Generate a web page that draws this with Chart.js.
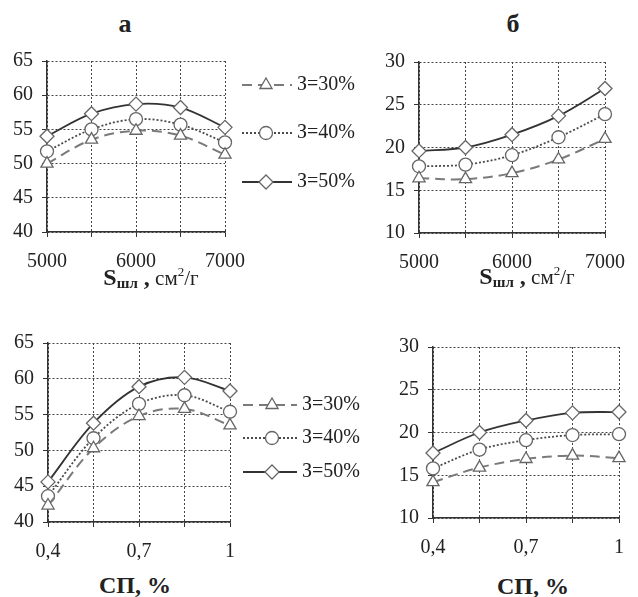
<!DOCTYPE html>
<html>
<head>
  <meta charset="UTF-8" />
  <title>Графики а, б</title>
  <script src="https://cdn.jsdelivr.net/npm/chart.js"></script>
  <style>
    body { margin: 0; background: #fff; }
    #wrap { position: relative; width: 638px; height: 597px; font-family: "Liberation Serif", serif; color: #222; }
    canvas { position: absolute; }
    .lbl { position: absolute; white-space: nowrap; transform: translate(-50%, -50%); line-height: 1; }
    .titulo { font-weight: bold; font-size: 26px; }
    .eixo { font-size: 21px; }
    .eixo b { font-size: 24px; }
    .eixo sub { font-size: 15px; vertical-align: -3px; }
    .eixo sup { font-size: 13px; vertical-align: 9px; }
  </style>
</head>
<body>
  <div id="wrap">
    <canvas id="gA" width="370" height="240" style="left:0; top:40px;"></canvas>
    <canvas id="gB" width="268" height="240" style="left:370px; top:40px;"></canvas>
    <canvas id="gC" width="370" height="240" style="left:0; top:320px;"></canvas>
    <canvas id="gD" width="268" height="240" style="left:370px; top:320px;"></canvas>
  </div>

  <script>
    // --- dados ---
    const xS = [5000, 5500, 6000, 6500, 7000];
    const xSLabels = ["5000", "", "6000", "", "7000"];
    const xSP = [0.4, 0.55, 0.7, 0.85, 1];
    const xSPLabels = ["0,4", "", "0,7", "", "1"];
    const nomes = ["З=30%", "З=40%", "З=50%"];

    const a30 = [50.0, 53.5, 54.8, 54.1, 51.3];
    const a40 = [51.8, 55.0, 56.5, 55.7, 53.1];
    const a50 = [54.0, 57.3, 58.7, 58.2, 55.3];

    const b30 = [16.4, 16.3, 17.0, 18.6, 21.0];
    const b40 = [17.8, 18.0, 19.1, 21.2, 23.9];
    const b50 = [19.6, 20.0, 21.5, 23.7, 26.9];

    const c30 = [42.3, 50.3, 54.8, 55.8, 53.5];
    const c40 = [43.6, 51.7, 56.5, 57.7, 55.4];
    const c50 = [45.6, 53.8, 58.9, 60.2, 58.3];

    const d30 = [14.2, 15.9, 16.9, 17.3, 17.0];
    const d40 = [15.8, 18.0, 19.1, 19.7, 19.8];
    const d50 = [17.6, 20.0, 21.4, 22.3, 22.4];

    const familia = '"Liberation Serif", serif';

    // estilos das três séries (30, 40, 50 %)
    const estilos = [
      { borderColor: "#7a7a7a", borderDash: [10, 6], borderWidth: 2, pointStyle: "triangle", pointRadius: 7 },
      { borderColor: "#4a4a4a", borderDash: [2, 2], borderWidth: 1.8, pointStyle: "circle", pointRadius: 6.5 },
      { borderColor: "#333333", borderDash: [], borderWidth: 1.8, pointStyle: "rectRot", pointRadius: 7 }
    ];

    // legenda desenhada ao lado do gráfico
    const legendaLateral = {
      id: "legendaLateral",
      afterDraw(chart, args, opts) {
        if (!opts || !opts.rows) return;
        const ctx = chart.ctx;
        chart.data.datasets.forEach((ds, i) => {
          const y = opts.rows[i];
          ctx.save();
          ctx.strokeStyle = ds.borderColor;
          ctx.lineWidth = ds.borderWidth;
          ctx.setLineDash(ds.borderDash || []);
          ctx.beginPath();
          ctx.moveTo(opts.x0, y);
          ctx.lineTo(opts.x1, y);
          ctx.stroke();
          ctx.setLineDash([]);
          ctx.fillStyle = "#fff";
          ctx.strokeStyle = ds.pointBorderColor;
          ctx.lineWidth = 1.3;
          Chart.helpers.drawPoint(ctx, { pointStyle: ds.pointStyle, radius: ds.pointRadius, borderWidth: 1.3, rotation: 0 }, opts.xm, y);
          ctx.fillStyle = "#222";
          ctx.font = '20px "Liberation Serif"';
          ctx.textBaseline = "middle";
          ctx.fillText(ds.label, opts.xt, y);
          ctx.restore();
        });
      }
    };

    // objetos novos para cada eixo
    const grade = () => ({ color: "#444", lineWidth: 1, tickLength: 5, tickColor: "#333" });
    const borda = () => ({ display: true, color: "#333", width: 1.5, dash: [2, 2] });
    const fonte = () => ({ family: familia, size: 20 });

    function grafico(id, xVals, xLabels, series, yMin, yMax, pad, yLarg, xAlt, legenda) {
      return new Chart(document.getElementById(id), {
        type: "line",
        data: {
          datasets: series.map((vals, i) => ({
            label: nomes[i],
            data: xVals.map((x, k) => ({ x: x, y: vals[k] })),
            borderColor: estilos[i].borderColor,
            borderDash: estilos[i].borderDash,
            borderWidth: estilos[i].borderWidth,
            pointStyle: estilos[i].pointStyle,
            pointRadius: estilos[i].pointRadius,
            pointBackgroundColor: "#fff",
            pointBorderColor: "#666",
            pointBorderWidth: 1.3,
            tension: 0.35,
            clip: false
          }))
        },
        options: {
          responsive: false,
          animation: false,
          layout: { padding: pad },
          plugins: {
            legend: { display: false },
            tooltip: { enabled: false },
            legendaLateral: legenda || false
          },
          scales: {
            x: {
              type: "linear",
              min: xVals[0],
              max: xVals[xVals.length - 1],
              afterBuildTicks: s => { s.ticks = xVals.map(v => ({ value: v })); },
              afterFit: s => { s.height = xAlt; },
              ticks: {
                autoSkip: false,
                maxRotation: 0,
                padding: 13,
                color: "#222",
                font: fonte(),
                callback: (v, idx) => xLabels[idx]
              },
              grid: grade(),
              border: borda()
            },
            y: {
              min: yMin,
              max: yMax,
              ticks: { stepSize: 5, padding: 9, color: "#222", font: fonte() },
              afterFit: s => { s.width = yLarg; },
              grid: grade(),
              border: borda()
            }
          }
        },
        plugins: [legendaLateral]
      });
    }

    grafico("gA", xS, xSLabels, [a30, a40, a50], 40, 65,
      { top: 18, right: 145, left: 0, bottom: 0 }, 47, 48,
      { rows: [45, 93, 142], x0: 242, x1: 292, xm: 266, xt: 297 });

    grafico("gB", xS, xSLabels, [b30, b40, b50], 10, 30,
      { top: 22, right: 21, left: 0, bottom: 0 }, 49, 47, null);

    grafico("gC", xSP, xSPLabels, [c30, c40, c50], 40, 65,
      { top: 23, right: 140, left: 0, bottom: 0 }, 48, 38,
      { rows: [85, 118, 152], x0: 243, x1: 297, xm: 272, xt: 302 });

    grafico("gD", xSP, xSPLabels, [d30, d40, d50], 10, 30,
      { top: 27, right: 19, left: 0, bottom: 0 }, 63, 42, null);

    // títulos e nomes dos eixos (texto HTML), depois dos gráficos
    const eixoS = '<b>S<sub>шл</sub> ,</b> см<sup>2</sup>/г';
    const eixoSP = '<b>СП, %</b>';
    document.getElementById("wrap").insertAdjacentHTML("beforeend",
      '<div class="lbl titulo" style="left:125px; top:24px;">а</div>' +
      '<div class="lbl titulo" style="left:513px; top:24px;">б</div>' +
      '<div class="lbl eixo" style="left:151px; top:278px;">' + eixoS + '</div>' +
      '<div class="lbl eixo" style="left:527px; top:277px;">' + eixoS + '</div>' +
      '<div class="lbl eixo" style="left:135px; top:585px;">' + eixoSP + '</div>' +
      '<div class="lbl eixo" style="left:533px; top:586px;">' + eixoSP + '</div>');
  </script>
</body>
</html>
